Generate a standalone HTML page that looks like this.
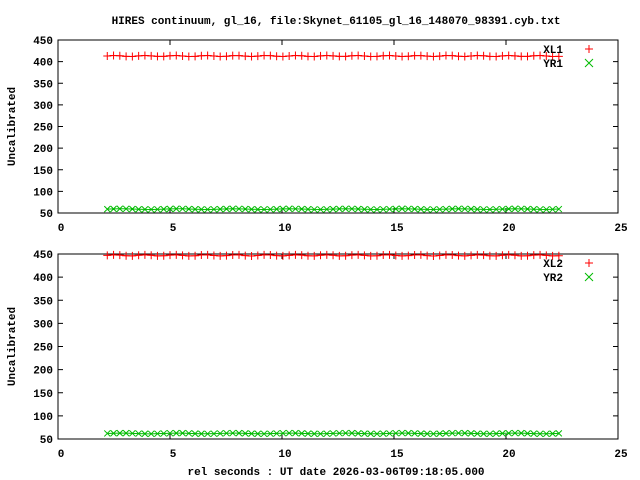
<!DOCTYPE html>
<html><head><meta charset="utf-8"><style>
body{margin:0;background:#fff}
svg{display:block}
text{font-family:"Liberation Mono",monospace;font-size:11px;font-weight:bold;fill:#000}
</style></head><body>
<svg id="s" width="640" height="480" xmlns="http://www.w3.org/2000/svg">
<text x="336" y="24" text-anchor="middle">HIRES continuum, gl_16, file:Skynet_61105_gl_16_148070_98391.cyb.txt</text>
<text x="336" y="475" text-anchor="middle">rel seconds : UT date 2026-03-06T09:18:05.000</text>
</svg>
<script>
var s=document.getElementById('s'),NS='http://www.w3.org/2000/svg';
function el(t,a,txt){var e=document.createElementNS(NS,t);for(var k in a)e.setAttribute(k,a[k]);if(txt)e.textContent=txt;s.appendChild(e);return e;}
function panel(top,bot,yr,yg,l1,l2){
 var L=58,R=618;
 function X(v){return L+v*(R-L)/25}
 function Y(v){return bot-(v-50)*(bot-top)/400}
 el('rect',{x:L,y:top,width:R-L,height:bot-top,fill:'none',stroke:'#000','stroke-width':1});
 for(var v=50;v<=450;v+=50){var y=Y(v);
  el('line',{x1:L,y1:y,x2:L+5,y2:y,stroke:'#000'});el('line',{x1:R,y1:y,x2:R-5,y2:y,stroke:'#000'});
  el('text',{x:L-5,y:y+4,'text-anchor':'end'},String(v));}
 for(var v=0;v<=25;v+=5){var x=X(v);
  el('line',{x1:x,y1:bot,x2:x,y2:bot-5,stroke:'#000'});el('line',{x1:x,y1:top,x2:x,y2:top+5,stroke:'#000'});
  el('text',{x:x+3,y:bot+18,'text-anchor':'middle'},String(v));}
 var t=el('text',{x:0,y:0,transform:'translate(15,'+((top+bot)/2)+') rotate(-90)','text-anchor':'middle'},'Uncalibrated');
 var pr='',pg='',mr='',mg='';
 for(var i=0;i<=72;i++){var xv=2.2+i*0.28;var x=X(xv);
  var a=Y(yr+Math.sin(i*1.3)*1.2),b=Y(yg+Math.sin(i*0.7)*0.8);
  pr+=x+','+a+' ';pg+=x+','+b+' ';
  mr+='M'+(x-4)+' '+a+'h8M'+x+' '+(a-4)+'v8';
  mg+='M'+(x-3)+' '+(b-3)+'l6 6M'+(x-3)+' '+(b+3)+'l6 -6';}
 el('polyline',{points:pr,fill:'none',stroke:'#f00'});
 el('path',{d:mr,stroke:'#f00',fill:'none'});
 el('polyline',{points:pg,fill:'none',stroke:'#0b0'});
 el('path',{d:mg,stroke:'#0b0',fill:'none'});
 el('text',{x:563,y:top+13,'text-anchor':'end'},l1);
 el('text',{x:563,y:top+27,'text-anchor':'end'},l2);
 var ly=top+9;el('path',{d:'M'+(585)+' '+ly+'h8M589 '+(ly-4)+'v8',stroke:'#f00'});
 ly=top+23;el('path',{d:'M585 '+(ly-4)+'l8 8M585 '+(ly+4)+'l8 -8',stroke:'#0b0'});
}
panel(40,213,413,59,'XL1','YR1');
panel(254,439,447,62,'XL2','YR2');
</script>
</body></html>
